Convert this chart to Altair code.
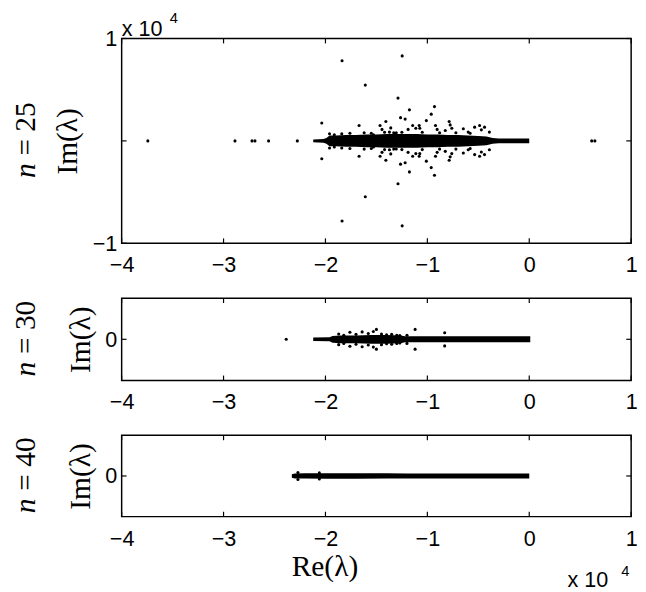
import altair as alt
import pandas as pd

X_TICKS = [-4, -3, -2, -1, 0, 1]

# ---- n = 25 (values in units of 1e4) ----
TOP_BAND_RE = [-2.12, -2.02, -1.99, -1.96, -1.90, -1.80, -1.70, -1.60, -1.50, -1.40, -1.30, -1.20,
               -1.10, -1.00, -0.90, -0.80, -0.70, -0.60, -0.50, -0.42, -0.36, -0.30, -0.15, 0.00]
TOP_BAND_HW = [0.014, 0.019, 0.029, 0.053, 0.053, 0.057, 0.057, 0.062, 0.062, 0.067, 0.067, 0.067,
               0.067, 0.062, 0.062, 0.057, 0.057, 0.053, 0.048, 0.043, 0.029, 0.024, 0.024, 0.024]
TOP_RE = [-2.036, -1.837, -1.670, -1.609, -1.529, -1.464, -1.445, -1.407, -1.372, -1.359,
          -1.305, -1.288, -1.263, -1.247, -1.218, -1.189, -1.176, -1.144, -1.113, -1.080,
          -1.074, -1.010, -0.962, -0.930, -0.920, -0.904, -0.824, -0.786, -0.776, -0.760,
          -0.647, -0.599, -0.536, -0.487, -0.470, -0.439, -0.391, -1.913,
          -1.96, -1.84, -1.76, -1.62, -1.55, -1.42, -1.33, -1.25, -1.05, -0.88, -0.72, -0.58]
TOP_IM = [0.175, 0.782, 0.150, 0.545, 0.060, 0.150, 0.112, 0.189, 0.086, 0.127,
          0.079, 0.418, 0.227, 0.830, 0.213, 0.112, 0.303, 0.150, 0.124, 0.150,
          0.124, 0.198, 0.261, 0.335, 0.150, 0.112, 0.102, 0.189, 0.156, 0.124,
          0.118, 0.086, 0.134, 0.150, 0.108, 0.134, 0.086, 0.060,
          0.070, 0.070, 0.075, 0.080, 0.075, 0.085, 0.080, 0.085, 0.085, 0.080, 0.080, 0.075]
TOP_REAL = [-3.743, -2.888, -2.721, -2.692, -2.558, -2.276, 0.613, 0.644]
TOP_YTICKS = [-1, 0, 1]

# ---- n = 30 ----
MID_BAND_RE = [-2.12, -1.96, -1.93, -1.85, -1.70, -1.55, -1.40, -1.26, -1.22, -1.00, -0.70, -0.40, -0.10, 0.01]
MID_BAND_HW = [0.043, 0.048, 0.083, 0.095, 0.095, 0.107, 0.107, 0.095, 0.071, 0.071, 0.071, 0.071, 0.071, 0.071]
MID_RE = [-1.87, -1.82, -1.76, -1.70, -1.64, -1.58, -1.53, -1.50, -1.45, -1.40, -1.35, -1.30, -1.27, -1.20, -1.12, -0.83]
MID_IM = [0.13, 0.10, 0.17, 0.12, 0.18, 0.14, 0.19, 0.24, 0.13, 0.11, 0.12, 0.10, 0.09, 0.10, 0.24, 0.16]
MID_REAL = [-2.385]
MID_YTICKS = [0]

# ---- n = 40 ----
BOT_BAND_RE = [-2.33, -2.30, -2.20, -2.00, -1.70, -1.40, -1.20, -0.90, -0.60, -0.20, 0.00]
BOT_BAND_HW = [0.045, 0.062, 0.065, 0.068, 0.068, 0.065, 0.062, 0.062, 0.062, 0.062, 0.062]
BOT_RE = [-2.27, -2.27, -2.06]
BOT_IM = [0.085, 0.0, 0.075]
BOT_REAL = []
BOT_YTICKS = [0]

W = 520
SANS = "Liberation Sans"
SERIF = "Liberation Serif"


def text_layer(txt, x, y, size, **kw):
    return alt.Chart(pd.DataFrame({"t": [txt]})).mark_text(
        font=kw.pop("font", SANS), fontSize=size, color="black", **kw
    ).encode(text="t:N", x=alt.value(x), y=alt.value(y))


def make_panel(h, band_re, band_hw, pts_re, pts_im, real_re, yticks, nval, bottom=False):
    xs = alt.Scale(domain=[-4, 1], nice=False, zero=False)
    ys = alt.Scale(domain=[-1, 1], nice=False, zero=False)
    x_axis = alt.Axis(values=X_TICKS, format="d", labelFont=SANS, labelFontSize=22,
                      labelColor="black", labelPadding=12, labelFlush=False, labelOverlap=False,
                      labelBound=False,
                      ticks=False, domain=False, grid=False,
                      title="Re(λ)" if bottom else "", titleFont=SERIF, titleFontSize=30,
                      titleFontWeight="normal", titleColor="black",
                      titleX=207, titleY=60, titleBaseline="alphabetic")
    y_axis = alt.Axis(values=yticks, format="d", labelFont=SANS, labelFontSize=22,
                      labelColor="black", labelPadding=5, labelFlush=False, labelOverlap=False,
                      ticks=False, domain=False, grid=False,
                      title="Im(λ)", titleFont=SERIF, titleFontSize=30,
                      titleFontWeight="normal", titleColor="black", titlePadding=10)

    band = pd.DataFrame({"re": band_re, "hi": band_hw, "lo": [-v for v in band_hw]})
    pts = pd.DataFrame({
        "re": list(pts_re) + list(pts_re) + list(real_re),
        "im": list(pts_im) + [-v for v in pts_im] + [0.0] * len(real_re),
    })
    X = lambda f: alt.X(f, scale=xs, axis=x_axis)
    Y = lambda f: alt.Y(f, scale=ys, axis=y_axis)

    area = alt.Chart(band).mark_area(color="black", opacity=1).encode(
        x=X("re:Q"), y=Y("hi:Q"), y2="lo:Q")
    dots = alt.Chart(pts).mark_circle(size=10, color="black", opacity=1).encode(
        x=X("re:Q"), y=Y("im:Q"))
    xt = pd.DataFrame({"v": X_TICKS})
    yt = pd.DataFrame({"v": yticks})
    rule = dict(color="black", strokeWidth=1.2)
    xt_b = alt.Chart(xt).mark_rule(**rule).encode(x=X("v:Q"), y=alt.value(h), y2=alt.value(h - 5))
    xt_t = alt.Chart(xt).mark_rule(**rule).encode(x=X("v:Q"), y=alt.value(0), y2=alt.value(5))
    yt_l = alt.Chart(yt).mark_rule(**rule).encode(y=Y("v:Q"), x=alt.value(0), x2=alt.value(5))
    yt_r = alt.Chart(yt).mark_rule(**rule).encode(y=Y("v:Q"), x=alt.value(W), x2=alt.value(W - 5))

    n_it = text_layer("n", -97, h / 2 + 38, 30, font=SERIF, fontStyle="italic",
                      angle=270, align="left", baseline="middle")
    n_rest = text_layer("= " + str(nval), -97, h / 2 + 15, 30, font=SERIF,
                        angle=270, align="left", baseline="middle")
    layers = [area, dots, xt_b, xt_t, yt_l, yt_r, n_it, n_rest]
    if nval == 25:
        layers += [text_layer("x 10", 0, -3, 22, align="left", baseline="alphabetic"),
                   text_layer("4", 49, -16, 15, align="left", baseline="alphabetic")]
    if bottom:
        layers += [text_layer("x 10", 455, 155, 22, align="left", baseline="alphabetic"),
                   text_layer("4", 510, 144, 15, align="left", baseline="alphabetic")]
    return alt.layer(*layers).properties(width=W, height=h)


top = make_panel(209, TOP_BAND_RE, TOP_BAND_HW, TOP_RE, TOP_IM, TOP_REAL, TOP_YTICKS, 25)
mid = make_panel(84, MID_BAND_RE, MID_BAND_HW, MID_RE, MID_IM, MID_REAL, MID_YTICKS, 30)
bot = make_panel(83, BOT_BAND_RE, BOT_BAND_HW, BOT_RE, BOT_IM, BOT_REAL, BOT_YTICKS, 40, bottom=True)

chart = alt.vconcat(top, mid, bot, spacing=56, bounds="flush").configure_view(
    stroke="black", strokeWidth=1.5
).properties(
    padding={"left": 3, "top": -4, "right": 0, "bottom": 4},
    background="white",
)

chart.save("out.html", embed_options={"renderer": "svg", "actions": False})
